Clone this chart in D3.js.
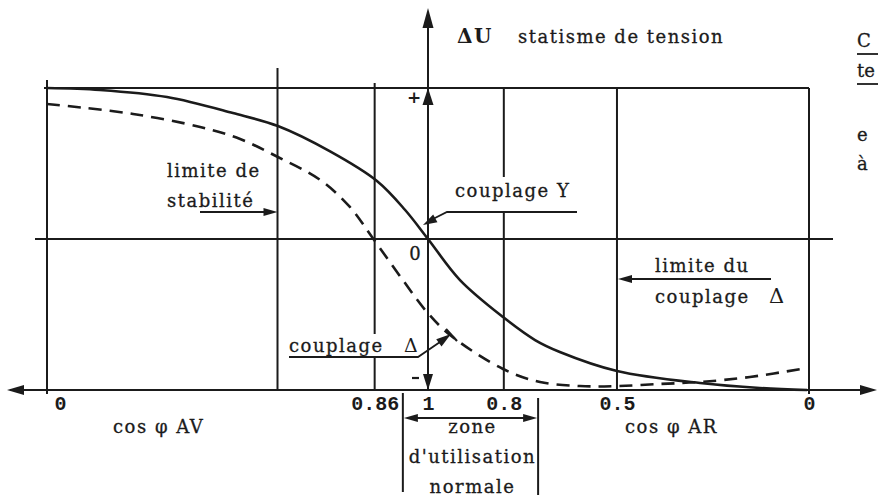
<!DOCTYPE html>
<html>
<head>
<meta charset="utf-8">
<script src="https://cdn.jsdelivr.net/npm/d3@7"></script>
<style>
  html, body { margin: 0; padding: 0; background: #ffffff; }
  svg { display: block; }
  text { font-family: "DejaVu Serif", serif; fill: #1b1b1b; }
  .lbl { font-size: 18px; letter-spacing: 1.5px; stroke: #1b1b1b; stroke-width: 0.3px; }
</style>
</head>
<body>
<svg id="chart" width="878" height="500"></svg>
<script>
// Abscissa: cos φ from 0 (leading, AV) through 1 to 0 (lagging, AR), schematic spacing
const tickLabels    = ["0", "0.86", "1", "0.8", "0.5", "0"];
const tickPositions = [-1, -0.140, 0, 0.199, 0.496, 1];
const stabilityLimit = -0.395;
const zoneBounds = [-0.066, 0.289];

// Reference levels of ΔU drawn as horizontal rules (+ line and 0 line)
const refLevels = [1, 0];

// Voltage droop ΔU versus position on the cos φ axis, [abscissa, ΔU]
const couplageY = [
  [-1.000, 1.000], [-0.861, 0.987], [-0.685, 0.940], [-0.512, 0.834],
  [-0.394, 0.748], [-0.257, 0.580], [-0.134, 0.384], [-0.060, 0.192],
  [0.000, 0.000], [0.084, -0.272], [0.197, -0.517], [0.281, -0.669],
  [0.346, -0.748], [0.496, -0.874], [0.714, -0.954], [0.871, -0.987],
  [0.995, -1.000]
];
const couplageDelta = [
  [-1.000, 0.894], [-0.948, 0.881], [-0.774, 0.828], [-0.598, 0.742],
  [-0.493, 0.662], [-0.394, 0.543], [-0.283, 0.391], [-0.205, 0.212],
  [-0.147, 0.013], [-0.066, -0.272], [-0.003, -0.483], [0.058, -0.636],
  [0.197, -0.861], [0.294, -0.947], [0.399, -0.974], [0.496, -0.974],
  [0.609, -0.960], [0.714, -0.947], [0.845, -0.914], [0.995, -0.854]
];

const ink = "#1b1b1b";
const svg = d3.select("#chart");
const x = d3.scaleLinear().domain([-1, 1]).range([47, 809]);
const y = d3.scaleLinear().domain([-1, 1]).range([390, 88]);

const grid = svg.append("g").attr("stroke", ink).attr("stroke-width", 2).attr("fill", "none");

// horizontal rules
grid.append("line").attr("x1", x(-1) - 3).attr("x2", x(1)).attr("y1", y(refLevels[0])).attr("y2", y(refLevels[0]));
grid.append("line").attr("x1", x(-1) - 12).attr("x2", x(1) + 24).attr("y1", y(refLevels[1])).attr("y2", y(refLevels[1]));

// vertical rules at the cos φ marks and at the stability limit
const verticals = [
  { u: tickPositions[0], top: 8, bottom: 4 },
  { u: stabilityLimit, top: 20, bottom: 0 },
  { u: tickPositions[1], top: 5, bottom: 0 },
  { u: tickPositions[3], top: 0, bottom: 0 },
  { u: tickPositions[4], top: 0, bottom: 0 },
  { u: tickPositions[5], top: 0, bottom: 4 }
];
grid.selectAll("line.v").data(verticals).join("line").attr("class", "v")
  .attr("x1", d => x(d.u)).attr("x2", d => x(d.u))
  .attr("y1", d => y(1) - d.top).attr("y2", d => y(-1) + d.bottom);

// cos φ axis and ΔU axis
grid.append("line").attr("x1", 10).attr("x2", 872).attr("y1", y(-1)).attr("y2", y(-1));
grid.append("line").attr("x1", x(0)).attr("x2", x(0)).attr("y1", 12).attr("y2", y(-1));

function arrow(g, tx, ty, ang, len = 18, hw = 5) {
  const dx = Math.cos(ang), dy = Math.sin(ang);
  const bx = tx - len * dx, by = ty - len * dy;
  const pts = [[tx, ty], [bx - hw * dy, by + hw * dx], [bx + hw * dy, by - hw * dx]];
  g.append("path").attr("d", d3.line()(pts) + "Z").attr("fill", ink).attr("stroke", "none");
}
const heads = svg.append("g");
arrow(heads, x(0), 8, -Math.PI / 2, 20, 5.5);
arrow(heads, x(0), y(1), -Math.PI / 2, 17, 5.5);
arrow(heads, x(0), y(-1), Math.PI / 2, 16, 5);
arrow(heads, 7, y(-1), Math.PI, 17, 5);
arrow(heads, 877, y(-1), 0, 17, 5);

// curves
const line = d3.line().x(d => x(d[0])).y(d => y(d[1])).curve(d3.curveCatmullRom.alpha(0.5));
svg.append("path").datum(couplageY).attr("d", line)
  .attr("fill", "none").attr("stroke", ink).attr("stroke-width", 2.6);
svg.append("path").datum(couplageDelta).attr("d", line)
  .attr("fill", "none").attr("stroke", ink).attr("stroke-width", 2.6)
  .attr("stroke-dasharray", "13,8");

// tick labels on the cos φ axis
const axis = d3.axisBottom(x).tickValues(tickPositions)
  .tickFormat((d, i) => tickLabels[i]).tickSize(0).tickPadding(6);
const ax = svg.append("g").attr("transform", `translate(0,${y(-1)})`).call(axis);
ax.select(".domain").remove();
ax.selectAll("text")
  .style("font-family", "'Liberation Mono', monospace").style("font-weight", "bold")
  .style("font-size", "20px").attr("fill", ink)
  .attr("dx", (d, i) => i === 0 ? 13 : 0);

const ann = svg.append("g");

// knockouts where labels sit over rules
ann.append("rect").attr("x", 452).attr("y", 177).attr("width", 126).attr("height", 34).attr("fill", "#fff");
ann.append("rect").attr("x", 286).attr("y", 334).attr("width", 100).attr("height", 22).attr("fill", "#fff");

// title
ann.append("text").attr("x", 457).attr("y", 43).style("font-size", "20px").style("font-weight", "bold")
  .style("letter-spacing", "1.5px").text("ΔU");
ann.append("text").attr("class", "lbl").attr("x", 518).attr("y", 43).text("statisme de tension");

// fragments of adjacent text at the right edge
const edge = [["C", 47, true], ["te", 77, true], ["e", 141, false], ["à", 170, false]];
edge.forEach(([t, yy, ul]) => {
  ann.append("text").attr("class", "lbl").attr("x", 857).attr("y", yy)
    .style("letter-spacing", "0px").text(t);
  if (ul) ann.append("line").attr("x1", 857).attr("x2", 878).attr("y1", yy + 7).attr("y2", yy + 7)
    .attr("stroke", ink).attr("stroke-width", 1.8);
});

// signs along the ΔU axis
ann.append("text").attr("x", 414).attr("y", 103).attr("text-anchor", "middle").style("font-size", "17px")
  .style("font-weight", "bold").text("+");
ann.append("line").attr("x1", 412).attr("x2", 419).attr("y1", 378).attr("y2", 378).attr("stroke", ink).attr("stroke-width", 2.2);
ann.append("text").attr("x", 415).attr("y", 260).attr("text-anchor", "middle").style("font-size", "18px")
  .style("stroke", ink).style("stroke-width", "0.3px").text("0");

// limite de stabilité
ann.append("text").attr("class", "lbl").attr("x", 167).attr("y", 177).text("limite de");
ann.append("text").attr("class", "lbl").attr("x", 167).attr("y", 207).text("stabilité");
const leader = ann.append("g").attr("stroke", ink).attr("stroke-width", 1.8).attr("fill", "none");
leader.append("line").attr("x1", 200).attr("x2", x(stabilityLimit) - 8).attr("y1", 212).attr("y2", 212);
arrow(ann, x(stabilityLimit), 212, 0, 14, 4);

// couplage Y
ann.append("text").attr("class", "lbl").attr("x", 455).attr("y", 197).text("couplage Y");
leader.append("polyline").attr("points", "577,212 447,212 433,219");
arrow(ann, 423, 225, Math.atan2(13, -24), 14, 4.5);

// limite du couplage Δ
ann.append("text").attr("class", "lbl").attr("x", 655).attr("y", 272).text("limite du");
ann.append("text").attr("class", "lbl").attr("x", 655).attr("y", 303).text("couplage");
ann.append("text").attr("x", 769).attr("y", 303).style("font-size", "21px").text("Δ");
leader.append("line").attr("x1", 771).attr("x2", x(tickPositions[4]) + 10).attr("y1", 279).attr("y2", 279);
arrow(ann, x(tickPositions[4]) + 1, 279, Math.PI, 14, 4);

// couplage Δ (curve label)
ann.append("text").attr("class", "lbl").attr("x", 289).attr("y", 352).text("couplage");
ann.append("text").attr("x", 404).attr("y", 352).style("font-size", "19px").text("Δ");
leader.append("polyline").attr("points", "289,357 418,357 440,342");
arrow(ann, 451, 334, Math.atan2(-8, 11), 15, 4.5);
leader.append("line").attr("x1", 446).attr("y1", 329).attr("x2", 457).attr("y2", 341).attr("stroke-width", 2.2);

// axis captions
ann.append("text").attr("class", "lbl").attr("x", 113).attr("y", 433).text("cos φ AV");
ann.append("text").attr("class", "lbl").attr("x", 625).attr("y", 433).text("cos φ AR");

// zone d'utilisation normale
const zx0 = x(zoneBounds[0]), zx1 = x(zoneBounds[1]);
leader.append("line").attr("x1", zx0).attr("x2", zx0).attr("y1", 393).attr("y2", 492).attr("stroke-width", 2);
leader.append("line").attr("x1", zx1).attr("x2", zx1).attr("y1", 398).attr("y2", 495).attr("stroke-width", 2);
leader.append("line").attr("x1", zx0 + 10).attr("x2", zx1 - 10).attr("y1", 418).attr("y2", 418);
arrow(ann, zx0 + 1, 418, Math.PI, 14, 4);
arrow(ann, zx1 - 1, 418, 0, 14, 4);
const zc = (zx0 + zx1) / 2 + 2;
ann.append("text").attr("class", "lbl").attr("x", zc).attr("y", 433).attr("text-anchor", "middle").text("zone");
ann.append("text").attr("class", "lbl").attr("x", zc).attr("y", 463).attr("text-anchor", "middle").text("d'utilisation");
ann.append("text").attr("class", "lbl").attr("x", zc).attr("y", 493).attr("text-anchor", "middle").text("normale");
</script>
</body>
</html>
